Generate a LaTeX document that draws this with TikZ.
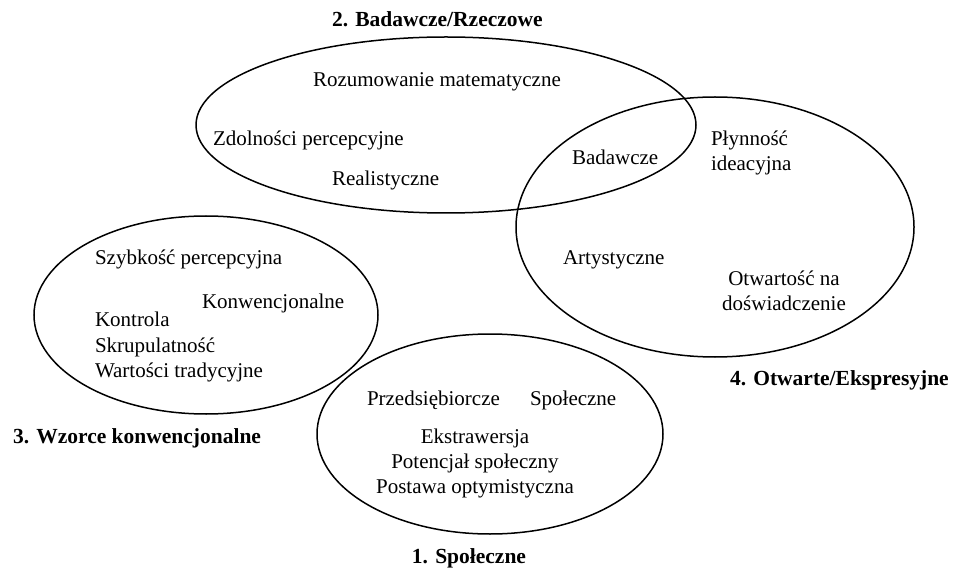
\documentclass[tikz,border=0pt]{standalone}
\usepackage{fontspec}
\setmainfont{Liberation Serif}
\begin{document}
\begin{tikzpicture}[x=1pt,y=-1pt,
  every node/.style={inner sep=0pt, outer sep=0pt},
  item/.style={font=\fontsize{21}{25.5}\selectfont},
  title/.style={font=\fontsize{21.5}{26}\selectfont\bfseries},
  ring/.style={draw=black, line width=1.5pt}]
\useasboundingbox (0,0) rectangle (966,569);

% four overlapping groups
\draw[ring] (446,125) ellipse [x radius=250, y radius=88];
\draw[ring] (715,227) ellipse [x radius=199, y radius=130];
\draw[ring] (206,315) ellipse [x radius=172, y radius=99];
\draw[ring] (490,434) ellipse [x radius=173, y radius=100];

% group titles
\node[title, anchor=base west] (t2) at (332,27) {2. Badawcze/Rzeczowe};
\node[title, anchor=base west] (t4) at (730,385) {4. Otwarte/Ekspresyjne};
\node[title, anchor=base west] (t3) at (13,443) {3. Wzorce konwencjonalne};
\node[title, anchor=base] (t1) at (469,563) {1. Społeczne};

% group 2
\node[item, anchor=base west] (rozum) at (313,87) {Rozumowanie matematyczne};
\node[item, anchor=base west] (zdol) at (213,146) {Zdolności percepcyjne};
\node[item, anchor=base west] (real) at (332,186) {Realistyczne};
\node[item, anchor=base west] (badaw) at (572,165) {Badawcze};

% group 4
\node[item, anchor=base west] (plyn) at (711,146) {Płynność};
\node[item, anchor=base west] (idea) at (711,171) {ideacyjna};
\node[item, anchor=base west] (arty) at (563,265) {Artystyczne};
\node[item, anchor=base] (otw) at (784,285) {Otwartość na};
\node[item, anchor=base] (dosw) at (784,310) {doświadczenie};

% group 3
\node[item, anchor=base west] (szyb) at (95,265) {Szybkość percepcyjna};
\node[item, anchor=base west] (konw) at (202,308) {Konwencjonalne};
\node[item, anchor=base west] (kontr) at (95,326) {Kontrola};
\node[item, anchor=base west] (skrup) at (95,352) {Skrupulatność};
\node[item, anchor=base west] (wart) at (95,377) {Wartości tradycyjne};

% group 1
\node[item, anchor=base west] (przed) at (367,405) {Przedsiębiorcze};
\node[item, anchor=base west] (spol) at (530,405) {Społeczne};
\node[item, anchor=base] (ekstra) at (475,443) {Ekstrawersja};
\node[item, anchor=base] (poten) at (475,468) {Potencjał społeczny};
\node[item, anchor=base] (postaw) at (475,493) {Postawa optymistyczna};
\end{tikzpicture}
\end{document}
